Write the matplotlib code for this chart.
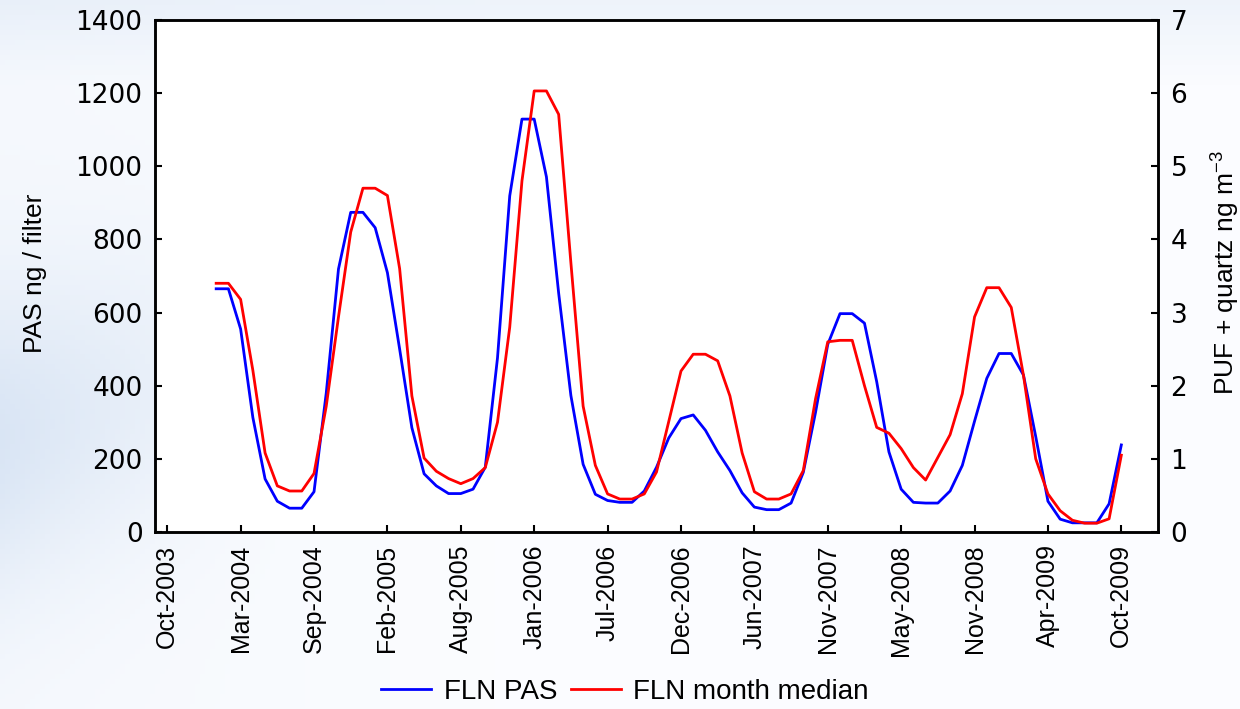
import numpy as np
import matplotlib
matplotlib.use('Agg')
import matplotlib.pyplot as plt

plt.rcParams['mathtext.fontset'] = 'custom'
plt.rcParams['mathtext.rm'] = 'Liberation Sans'
plt.rcParams['mathtext.it'] = 'Liberation Sans:italic'

# tick labels on the sample axis (one tick every 6 samples)
tick_labels = ['Oct-2003', 'Mar-2004', 'Sep-2004', 'Feb-2005', 'Aug-2005',
               'Jan-2006', 'Jul-2006', 'Dec-2006', 'Jun-2007', 'Nov-2007',
               'May-2008', 'Nov-2008', 'Apr-2009', 'Oct-2009']

# FLN PAS, ng / filter (left axis)
fln_pas = [665, 665, 555, 313, 145, 84, 65, 65, 110, 380,
           719, 874, 874, 832, 709, 500, 285, 159, 126, 105,
           105, 117, 177, 476, 919, 1129, 1129, 971, 653, 373,
           185, 103, 86, 81, 81, 112, 177, 257, 310, 320,
           278, 219, 168, 107, 68, 61, 61, 79, 163, 327,
           513, 597, 597, 571, 411, 219, 117, 81, 79, 79,
           112, 182, 303, 420, 488, 488, 429, 261, 84, 35,
           25, 25, 25, 77, 238]

# FLN month median, PUF + quartz ng m-3 (right axis)
fln_month_median = [3.40, 3.40, 3.18, 2.21, 1.08, 0.63, 0.56, 0.56, 0.80, 1.72,
                    2.94, 4.10, 4.70, 4.70, 4.60, 3.60, 1.86, 1.01, 0.83, 0.73,
                    0.66, 0.73, 0.88, 1.50, 2.80, 4.80, 6.03, 6.03, 5.71, 3.68,
                    1.72, 0.91, 0.52, 0.45, 0.45, 0.52, 0.82, 1.51, 2.20, 2.43,
                    2.43, 2.34, 1.86, 1.08, 0.55, 0.45, 0.45, 0.52, 0.84, 1.82,
                    2.60, 2.62, 2.62, 2.00, 1.43, 1.35, 1.14, 0.88, 0.71, 1.02,
                    1.33, 1.89, 2.94, 3.34, 3.34, 3.07, 2.14, 1.00, 0.52, 0.29,
                    0.16, 0.12, 0.12, 0.18, 1.05]

sample_no = np.arange(4, 4 + len(fln_pas))
tick_pos = np.arange(0, 6 * len(tick_labels), 6)

fig = plt.figure(figsize=(12.4, 7.09), dpi=100)

# slide-like pale blue background
bg = fig.add_axes([0, 0, 1, 1], zorder=-10)
bg.axis('off')
yy, xx = np.mgrid[0:1:142j, 0:1:248j]
band = np.exp(-((yy - (0.62 - 0.55 * xx)) / 0.22) ** 2) * np.clip(1 - xx / 0.25, 0, 1)
t = 0.75 * band + 0.35 * np.clip(1 - yy / 0.12, 0, 1) + 0.15 * np.clip(1 - xx / 0.4, 0, 1)
t = np.clip(t, 0, 1)[..., None]
blue = np.array([0.84, 0.89, 0.955])
bg.imshow((1 - t) * np.array([0.985, 0.99, 1.0]) + t * blue, aspect='auto',
          extent=[0, 1, 0, 1], origin='upper')
bg.set_xlim(0, 1)
bg.set_ylim(0, 1)

ax = fig.add_axes([0.125, 0.2497, 0.8089, 0.7221])
ax.set_facecolor('white')
l1, = ax.plot(sample_no, fln_pas, color='#0000ff', lw=2.0)
ax2 = ax.twinx()
l2, = ax2.plot(sample_no, fln_month_median, color='#ff0000', lw=2.0)

ax.set_xlim(-1, 81)
ax.set_ylim(0, 1400)
ax2.set_ylim(0, 7)
ax.set_yticks(range(0, 1401, 200))
ax2.set_yticks(range(0, 8))
ax.set_xticks(tick_pos)
ax.set_xticklabels(tick_labels, rotation=90, fontfamily='Liberation Sans', fontsize=18)
for lab in ax.get_yticklabels() + ax2.get_yticklabels():
    lab.set_fontfamily('DejaVu Sans')
    lab.set_fontsize(19)

for a in (ax, ax2):
    a.tick_params(direction='in', length=5, width=1.5, pad=9)
    for s in a.spines.values():
        s.set_linewidth(1.8)

ax.set_ylabel('PAS ng / filter', fontfamily='Liberation Sans', fontsize=19)
ax.yaxis.set_label_coords(-0.108, 0.506)
ax2.set_ylabel('PUF + quartz ng m$^{-3}$', fontfamily='Liberation Sans', fontsize=19)
ax2.yaxis.set_label_coords(1.052, 0.506)

fig.legend([l1, l2], ['FLN PAS', 'FLN month median'], loc='center',
           bbox_to_anchor=(0.504, 0.024), ncol=2, frameon=False,
           prop={'family': 'Liberation Sans', 'size': 20},
           handlelength=1.8, handletextpad=0.45, columnspacing=0.5)

fig.savefig('out.png', dpi=100)
